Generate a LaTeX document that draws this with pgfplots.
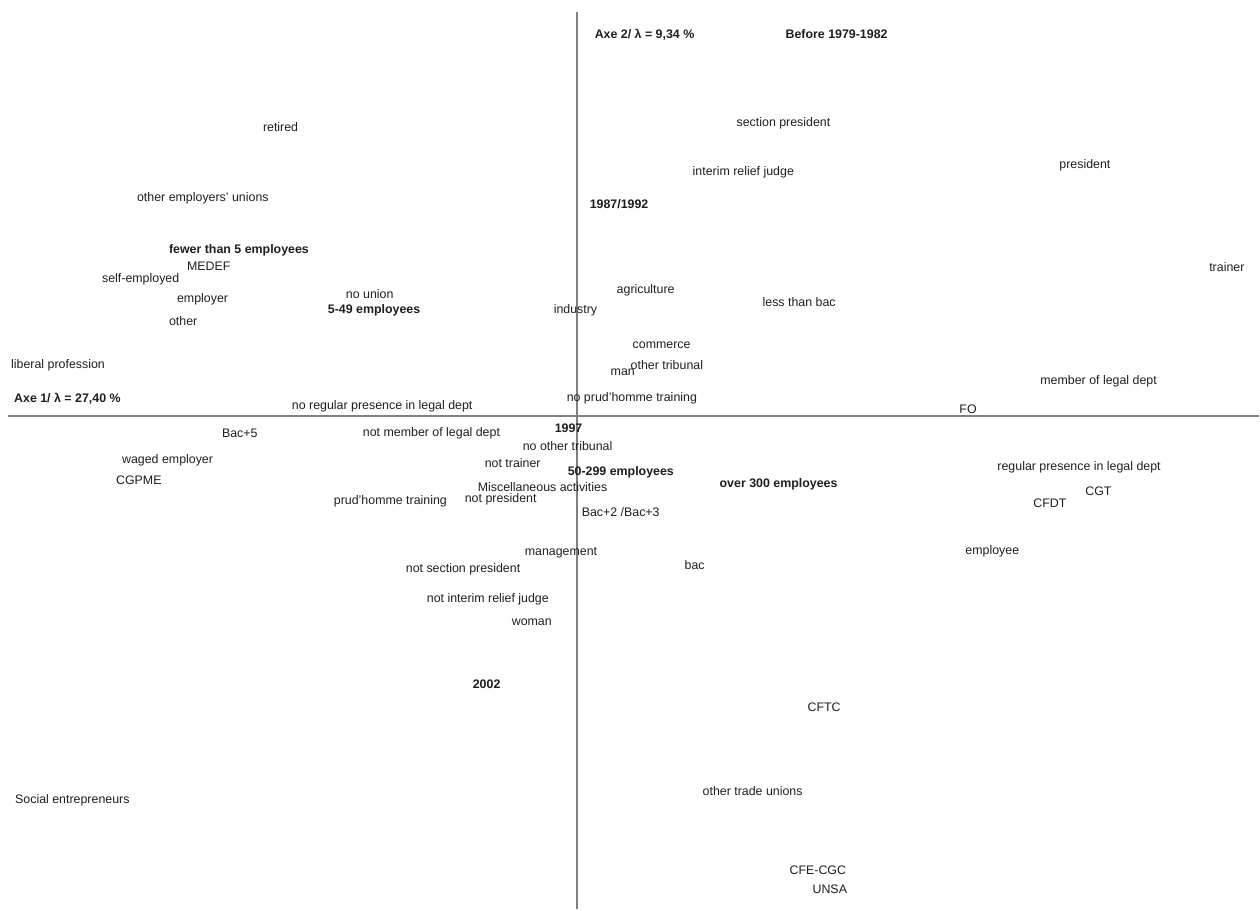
\documentclass[border=0pt]{standalone}
\usepackage{pgfplots}
\pgfplotsset{compat=1.18}
\usepackage{fontspec}
\setmainfont{Liberation Sans}
\definecolor{axisgray}{HTML}{808080}
\definecolor{txt}{HTML}{1E1E1E}

\begin{document}
\begin{tikzpicture}
\begin{axis}[
    width=1260pt, height=910pt, scale only axis,
    xmin=0, xmax=1260, ymin=0, ymax=910,
    axis line style={draw=none}, ticks=none,
    clip=false,
    every node near coord/.append style={anchor=west, inner sep=0pt, text=txt,
        font=\fontsize{12.4}{14}\selectfont},
  ]
  % factorial axes
  \addplot[axisgray, line width=1.9pt] coordinates {(577,0) (577,898)};
  \addplot[axisgray, line width=1.9pt] coordinates {(8,494) (1260,494)};

  % regular labels (x = left edge, y = 908 - pixel row)
  \addplot[only marks, mark=none, nodes near coords, point meta=explicit symbolic]
    coordinates {
      (263,783) [retired]
      (737,787) [section president]
      (1060,745) [president]
      (693,738) [interim relief judge]
      (137,712) [other employers' unions]
      (187,644) [MEDEF]
      (102,630) [self-employed]
      (1210,643) [trainer]
      (617,619) [agriculture]
      (346,616) [no union]
      (763,608) [less than bac]
      (177,610) [employer]
      (554,599) [industry]
      (169,589) [other]
      (633,565) [commerce]
      (11,544) [liberal profession]
      (631,545) [other tribunal]
      (611,537) [man]
      (1041,528) [member of legal dept]
      (567,511) [no prud'homme training]
      (292,503) [no regular presence in legal dept]
      (960,500) [FO]
      (222,476) [Bac+5]
      (363,476) [not member of legal dept]
      (523,464) [no other tribunal]
      (122,449) [waged employer]
      (485,447) [not trainer]
      (998,442) [regular presence in legal dept]
      (116,429) [CGPME]
      (478,423) [Miscellaneous activities]
      (1086,418) [CGT]
      (334,408) [prud'homme training]
      (465,410) [not president]
      (1034,406) [CFDT]
      (582,398) [Bac+2 /Bac+3]
      (525,357) [management]
      (966,358) [employee]
      (685,344) [bac]
      (406,340) [not section president]
      (427,310) [not interim relief judge]
      (512,287) [woman]
      (808,202) [CFTC]
      (703,118) [other trade unions]
      (15,109) [Social entrepreneurs]
      (790,39) [CFE-CGC]
      (813,20) [UNSA]
    };

  % bold labels
  \addplot[only marks, mark=none, nodes near coords, point meta=explicit symbolic,
      every node near coord/.append style={font=\fontsize{12.4}{14}\selectfont\bfseries}]
    coordinates {
      (595,875) [Axe 2/  λ = 9,34 \%]
      (786,876) [Before 1979-1982]
      (590,706) [1987/1992]
      (169,660) [fewer than 5 employees]
      (328,599) [5-49 employees]
      (14,511) [Axe 1/  λ = 27,40 \%]
      (555,481) [1997]
      (568,437) [50-299 employees]
      (720,425) [over 300 employees]
      (473,225) [2002]
    };
\end{axis}
\end{tikzpicture}
\end{document}
